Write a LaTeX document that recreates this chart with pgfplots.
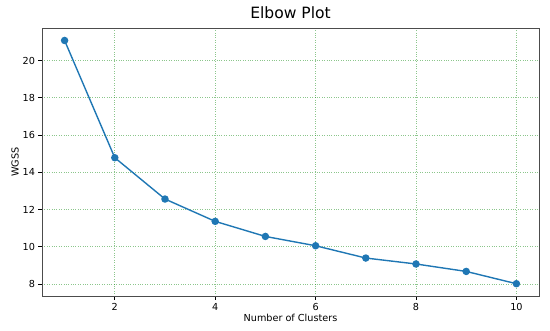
\documentclass[border=0pt]{standalone}
\usepackage{fontspec}
\setmainfont{DejaVu Sans}
\usepackage{pgfplots}
\pgfplotsset{compat=1.18}
\definecolor{mplblue}{HTML}{1F77B4}
\definecolor{gridgreen}{HTML}{008000}

\begin{document}
\begin{tikzpicture}
\useasboundingbox (-42bp,-35bp) rectangle (508bp,296bp);
\begin{axis}[
  scale only axis,width=497bp,height=268bp,
  xmin=0.55,xmax=10.45,ymin=7.35,ymax=21.75,
  xtick={2,4,6,8,10},ytick={8,10,12,14,16,18,20},
  /pgf/number format/assume math mode=true,
  tick label style={font=\fontsize{9.7}{11}\selectfont,black},
  label style={font=\fontsize{9.7}{11}\selectfont},
  title style={font=\fontsize{15.6}{18}\selectfont,yshift=0bp},
  title={Elbow Plot},
  xlabel={Number of Clusters},ylabel={WGSS},
  tick align=outside,tick pos=left,
  major tick length=3.5bp,
  every tick/.style={black,line width=0.8bp},
  axis line style={draw=black!70,line width=0.8bp},
  grid=major,
  major grid style={draw=gridgreen,opacity=0.45,dotted,line width=0.6bp},
  xlabel style={yshift=3bp},
  ylabel style={yshift=-3bp},
]
\addplot[color=mplblue,line width=1.4bp,mark=*,mark size=3bp,
  mark options={fill=mplblue,draw=mplblue}] coordinates {
  (1,21.08) (2,14.78) (3,12.56) (4,11.36) (5,10.55)
  (6,10.05) (7,9.39) (8,9.07) (9,8.67) (10,8.01)
};
\end{axis}
\end{tikzpicture}
\end{document}
